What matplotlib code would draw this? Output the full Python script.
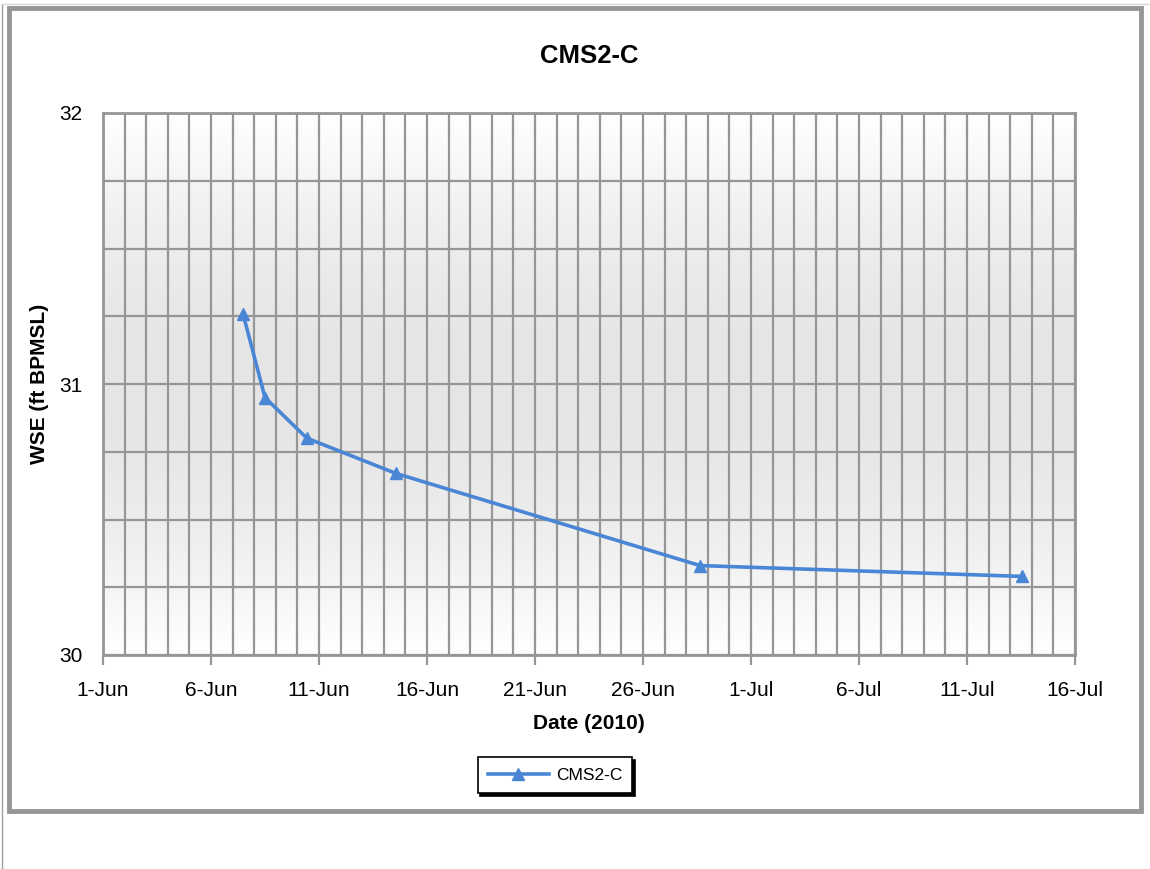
import numpy as np
import pandas as pd
import matplotlib
matplotlib.use("Agg")
import matplotlib.pyplot as plt
import matplotlib.dates as mdates
from matplotlib.patches import Rectangle
from matplotlib.lines import Line2D

plt.rcParams['font.family'] = ['Liberation Sans', 'DejaVu Sans']

# water surface elevation readings for the well
dates = pd.to_datetime([
    "2010-06-07 11:30", "2010-06-08 12:00", "2010-06-10 10:30",
    "2010-06-14 13:30", "2010-06-28 15:20", "2010-07-13 13:00",
])
wse = [31.26, 30.95, 30.80, 30.67, 30.33, 30.29]

x_start = pd.Timestamp("2010-06-01")
x_end = pd.Timestamp("2010-07-16")

grid_col = "#969696"
line_col = "#4a86d6"

fig = plt.figure(figsize=(11.5, 8.69), dpi=100)
ax = fig.add_axes([103 / 1150, 1 - 655 / 869, 972 / 1150, 542 / 869])

# chart area frame plus the thin page edge on the left
fig.patches.append(Rectangle((9 / 1150, 1 - 811 / 869), 1132 / 1150, 803 / 869,
                             transform=fig.transFigure, fill=False,
                             edgecolor=grid_col, linewidth=3.5))
fig.lines.append(Line2D([2 / 1150, 2 / 1150], [0, 1 - 4 / 869],
                        transform=fig.transFigure, color="#a0a0a0", linewidth=1))
fig.lines.append(Line2D([2 / 1150, 1], [1 - 4 / 869, 1 - 4 / 869],
                        transform=fig.transFigure, color="#d8d8d8", linewidth=1))

# plot background: white at top/bottom, light gray toward the middle
t = np.linspace(0, 1, 256)
shade = 1 - 0.10 * np.sin(np.pi * t)
bg = np.dstack([shade, shade, shade])[0][:, None, :].repeat(2, axis=1)
ax.imshow(bg, aspect='auto', zorder=0,
          extent=[mdates.date2num(x_start), mdates.date2num(x_end), 30, 32])

ax.set_xlim(x_start, x_end)
ax.set_ylim(30, 32)

ax.xaxis.set_major_locator(mdates.DayLocator(bymonthday=[1, 6, 11, 16, 21, 26]))
ax.xaxis.set_minor_locator(mdates.DayLocator())
ax.xaxis.set_major_formatter(mdates.DateFormatter("%-d-%b"))
ax.set_yticks([30, 31, 32])
ax.set_yticks(np.arange(30, 32.01, 0.25), minor=True)

ax.grid(which='both', axis='both', color=grid_col, linewidth=1.6, zorder=1)
ax.set_axisbelow(True)

ax.tick_params(axis='x', which='major', direction='out', length=7, width=1.6,
               color=grid_col, labelsize=15, pad=12)
ax.tick_params(axis='x', which='minor', length=0)
ax.tick_params(axis='y', which='both', length=0, labelsize=15, pad=15)

for s in ax.spines.values():
    s.set_color(grid_col)
    s.set_linewidth(2)

ax.plot(dates, wse, color=line_col, linewidth=2.6, marker='^', markersize=8.5,
        markerfacecolor=line_col, markeredgecolor=line_col, label="CMS2-C",
        zorder=3)

ax.set_title("CMS2-C", fontsize=18.5, fontweight='bold', pad=36)
ax.set_xlabel("Date (2010)", fontsize=15, fontweight='bold', labelpad=10)
ax.set_ylabel("WSE (ft BPMSL)", fontsize=15, fontweight='bold', labelpad=7)

leg = ax.legend(loc='center', bbox_to_anchor=(555 / 1150, 1 - 775 / 869),
                bbox_transform=fig.transFigure, fontsize=12.5, frameon=True,
                fancybox=False, edgecolor='black', framealpha=1,
                handlelength=3.5, borderpad=0.6, borderaxespad=0,
                handletextpad=0.4,
                shadow={'color': 'black', 'alpha': 1})
leg.get_frame().set_linewidth(1.2)

fig.savefig("out.png", dpi=100)
